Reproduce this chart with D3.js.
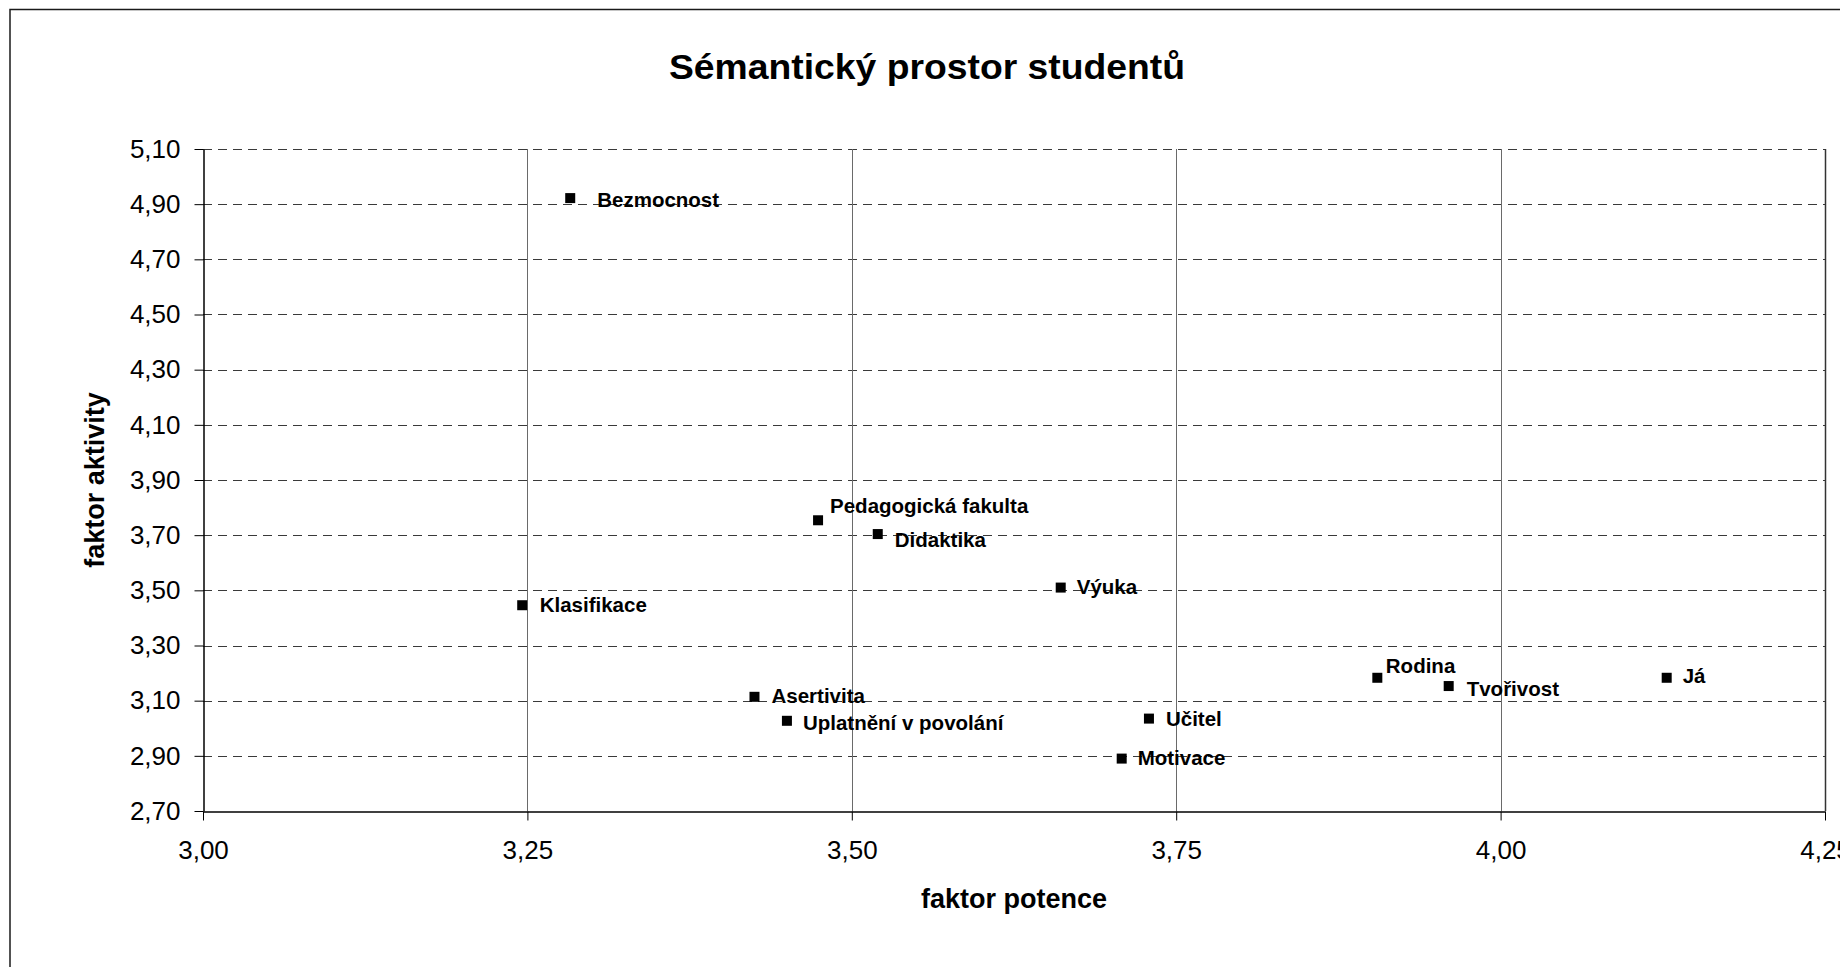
<!DOCTYPE html>
<html>
<head>
<meta charset="utf-8">
<script src="https://cdn.jsdelivr.net/npm/d3@7"></script>
<style>
  html, body { margin: 0; padding: 0; background: #fff; overflow: hidden; }
  svg { display: block; font-family: "Liberation Sans", Arial, sans-serif; }
</style>
</head>
<body>
<svg id="chart" width="1840" height="967"></svg>
<script>
// ---- data ----
const title = "Sémantický prostor studentů";
const xTitle = "faktor potence";
const yTitle = "faktor aktivity";
const categories = ["Bezmocnost", "Pedagogická fakulta", "Didaktika", "Klasifikace", "Výuka", "Asertivita",
                    "Uplatnění v povolání", "Motivace", "Učitel", "Rodina", "Tvořivost", "Já"];
const potence  = [3.283, 3.474, 3.520, 3.246, 3.661, 3.425, 3.450, 3.708, 3.729, 3.905, 3.960, 4.128];
const aktivita = [4.922, 3.754, 3.704, 3.446, 3.510, 3.114, 3.027, 2.890, 3.035, 3.183, 3.153, 3.183];
const xTicks = [3.00, 3.25, 3.50, 3.75, 4.00, 4.25];
const yTicks = [2.70, 2.90, 3.10, 3.30, 3.50, 3.70, 3.90, 4.10, 4.30, 4.50, 4.70, 4.90, 5.10];

// ---- layout ----
const labelDx = [27, 12, 17, 17.5, 16, 17, 16, 16, 17, 8.5, 18, 16];
const labelDy = [9, -7, 12.5, 6.5, 6, 6, 9, 6.5, 7, -4.5, 10, 5.5];
const plot = { left: 203, right: 1825, top: 149, bottom: 811 };

const svg = d3.select("#chart");
const locale = d3.formatLocale({ decimal: ",", thousands: " ", grouping: [3], currency: ["", " Kč"] });
const fmt = locale.format(".2f");

// outer chart border
svg.append("rect")
  .attr("x", 10).attr("y", 9.5).attr("width", 1840).attr("height", 1000)
  .attr("fill", "#fff").attr("stroke", "#1a1a1a").attr("stroke-width", 1.5);

const x = d3.scaleLinear().domain([xTicks[0], xTicks[xTicks.length - 1]]).range([plot.left, plot.right]);
const y = d3.scaleLinear().domain([yTicks[0], yTicks[yTicks.length - 1]]).range([plot.bottom, plot.top]);

// horizontal dashed grid lines
svg.append("g").selectAll("line")
  .data(yTicks.slice(1))
  .join("line")
  .attr("x1", plot.left).attr("x2", plot.right)
  .attr("y1", d => Math.round(y(d)) + 0.5).attr("y2", d => Math.round(y(d)) + 0.5)
  .attr("stroke", "#3a3a3a").attr("stroke-width", 1)
  .attr("stroke-dasharray", "9,6");

// vertical solid grid lines
svg.append("g").selectAll("line")
  .data(xTicks.slice(1))
  .join("line")
  .attr("y1", plot.top).attr("y2", plot.bottom)
  .attr("x1", d => Math.round(x(d)) + 0.5).attr("x2", d => Math.round(x(d)) + 0.5)
  .attr("stroke", d => d === xTicks[xTicks.length - 1] ? "#333" : "#6a6a6a")
  .attr("stroke-width", d => d === xTicks[xTicks.length - 1] ? 1.5 : 1);

// axes
const yAxis = d3.axisLeft(y).tickValues(yTicks).tickFormat(fmt).tickSize(9).tickSizeOuter(0).tickPadding(14);
const xAxis = d3.axisBottom(x).tickValues(xTicks).tickFormat(fmt).tickSize(9).tickSizeOuter(0).tickPadding(20);

const gy = svg.append("g").attr("transform", `translate(${plot.left + 0.5},0)`).call(yAxis);
const gx = svg.append("g").attr("transform", `translate(0,${plot.bottom + 0.5})`).call(xAxis);
[gx, gy].forEach(g => {
  g.selectAll("path").attr("stroke", "#000").attr("stroke-width", 1.5);
  g.selectAll("line").attr("stroke", "#000").attr("stroke-width", 1);
  g.selectAll("text").attr("fill", "#000").attr("font-size", 26)
    .attr("font-family", "'Liberation Sans', Arial, sans-serif");
});

// markers
const pts = categories.map((c, i) => ({ c, px: potence[i], py: aktivita[i], i }));
svg.append("g").selectAll("rect")
  .data(pts)
  .join("rect")
  .attr("x", d => x(d.px) - 5).attr("y", d => y(d.py) - 5)
  .attr("width", 10).attr("height", 10)
  .attr("fill", "#000");

// labels
svg.append("g").selectAll("text")
  .data(pts)
  .join("text")
  .attr("x", d => x(d.px) + labelDx[d.i])
  .attr("y", d => y(d.py) + labelDy[d.i])
  .attr("font-size", 20.5).attr("font-weight", "bold").attr("fill", "#000")
  .text(d => d.c);

// titles
svg.append("text")
  .attr("x", 927).attr("y", 79)
  .attr("text-anchor", "middle")
  .attr("font-size", 35).attr("font-weight", "bold")
  .attr("textLength", 516).attr("lengthAdjust", "spacingAndGlyphs")
  .text(title);

svg.append("text")
  .attr("x", (plot.left + plot.right) / 2).attr("y", 908)
  .attr("text-anchor", "middle")
  .attr("font-size", 27).attr("font-weight", "bold")
  .text(xTitle);

svg.append("text")
  .attr("transform", `translate(104,${(plot.top + plot.bottom) / 2}) rotate(-90)`)
  .attr("text-anchor", "middle")
  .attr("font-size", 27).attr("font-weight", "bold")
  .text(yTitle);
</script>
</body>
</html>
